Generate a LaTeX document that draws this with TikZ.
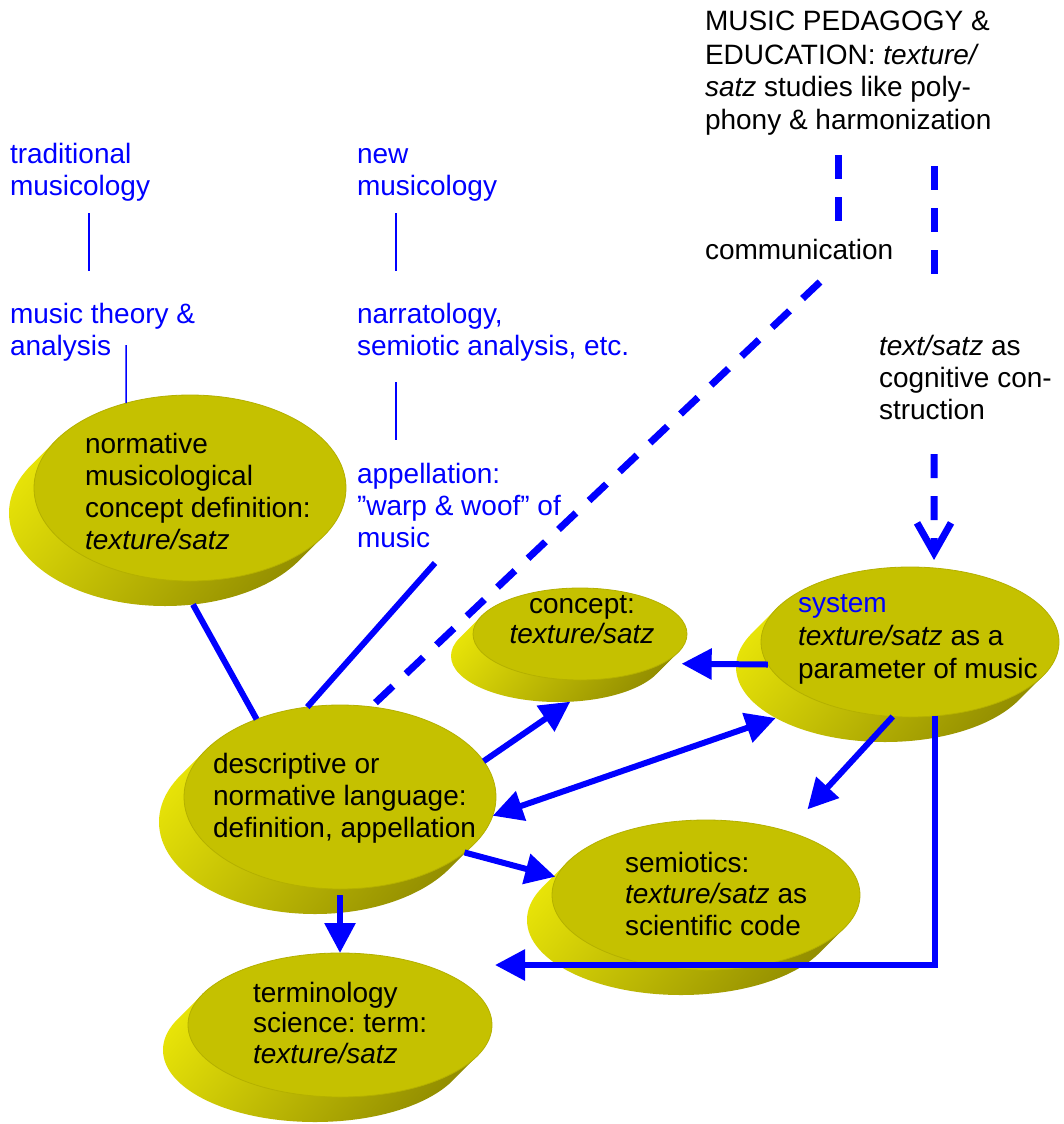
\documentclass[tikz,border=0pt]{standalone}
\usepackage{fontspec}
\setmainfont{Liberation Sans}
\usetikzlibrary{arrows.meta,shapes.geometric,calc}
\frenchspacing

\definecolor{linkblue}{RGB}{0,0,255}
\definecolor{discTop}{RGB}{197,193,0}
\definecolor{discEdge}{RGB}{180,176,0}
\definecolor{sideLight}{RGB}{232,228,8}
\definecolor{sideDark}{RGB}{145,140,0}

% multi-line text whose reference point is the first baseline
\newcommand\lines[1]{\begin{tabular}[t]{@{}l@{}}#1\end{tabular}}
\newcommand\clines[1]{\begin{tabular}[t]{@{}c@{}}#1\end{tabular}}

% extruded disc: shaded side (union of shifted ellipses) + flat top node
% #1 name, #2 centre, #3 x radius, #4 y radius, #5 depth
\newcommand\drawdisc[5]{%
  \shade[discside] \foreach \k in {1,...,#5} {([shift={(-\k,\k)}]#2) ellipse [x radius=#3, y radius=#4]};
  \node[disctop, minimum width=2*#3, minimum height=2*#4] (#1) at (#2) {};
}

\begin{document}
\begin{tikzpicture}[x=1pt,y=-1pt,
  txt/.style={inner sep=0pt, outer sep=0pt, anchor=base west, font=\fontsize{28}{32}\selectfont},
  bluetxt/.style={txt, text=linkblue},
  disctop/.style={ellipse, inner sep=0pt, outer sep=0pt, fill=discTop, draw=discEdge, line width=0.8pt},
  discside/.style={top color=sideLight, bottom color=sideDark, shading angle=50},
  thinlink/.style={draw=linkblue, line width=1.5pt},
  conn/.style={draw=linkblue, line width=6pt},
  arr/.style={conn, -{Triangle[length=30pt,width=30pt]}},
  darr/.style={conn, {Triangle[length=30pt,width=30pt]}-{Triangle[length=30pt,width=30pt]}},
  dsh/.style={draw=linkblue, line width=7pt, dash pattern=on 24pt off 18pt},
]
\fill[white] (0,0) rectangle (1064,1124);
\useasboundingbox (0,0) rectangle (1064,1124);

% discs
\drawdisc{norm}{190,488}{156}{93}{25}
\drawdisc{desc}{340,797}{156}{92}{25}
\drawdisc{term}{340,1025}{152}{72}{25}
\drawdisc{conc}{580,634}{107}{46}{22}
\drawdisc{sys}{910,642}{149}{75}{25}
\drawdisc{semi}{706,895}{154}{75}{25}

% free labels
\node[bluetxt] (trad) at (10,163) {\lines{traditional\\musicology}};
\node[bluetxt] (theory) at (10,323) {\lines{music theory \&\\analysis}};
\node[bluetxt] (newm) at (357,163) {\lines{new\\musicology}};
\node[bluetxt] (narr) at (357,323) {\lines{narratology,\\semiotic analysis, etc.}};
\node[bluetxt] (appel) at (357,483) {\lines{appellation:\\”warp \& woof” of\\music}};
\node[txt, font=\fontsize{28}{33}\selectfont] (ped) at (705,31)
  {\lines{MUSIC PEDAGOGY \&\\EDUCATION: \textit{texture/}\\\textit{satz} studies like poly-\\phony \& harmonization}};
\node[txt] (comm) at (705,259) {communication};
\node[txt] (cog) at (879,355) {\lines{\textit{text/satz} as\\cognitive con-\\struction}};

% disc texts
\node[txt] (normT) at (85,453) {\lines{normative\\musicological\\concept definition:\\\textit{texture/satz}}};
\node[txt] (descT) at (213,773) {\lines{descriptive or\\normative language:\\definition, appellation}};
\node[txt, font=\fontsize{28}{30.5}\selectfont] (termT) at (253,1002) {\lines{terminology\\science: term:\\\textit{texture/satz}}};
\node[txt, font=\fontsize{28}{31.5}\selectfont] (semiT) at (625,872) {\lines{semiotics:\\\textit{texture/satz} as\\scientific code}};
\node[txt, anchor=base, font=\fontsize{28}{30}\selectfont] (concT) at (582,613) {\clines{concept:\\\textit{texture/satz}}};
\node[txt, font=\fontsize{28}{33}\selectfont] (sysT) at (798,612) {\lines{\textcolor{linkblue}{system}\\\textit{texture/satz} as a\\parameter of music}};

% thin links between labels
\draw[thinlink] ([shift={(79,50)}]trad.base west) -- ([shift={(79,-52)}]theory.base west);
\draw[thinlink] ([shift={(116,22)}]theory.base west) -- (norm.127);
\draw[thinlink] ([shift={(39,50)}]newm.base west) -- ([shift={(39,-52)}]narr.base west);
\draw[thinlink] ([shift={(39,59)}]narr.base west) -- ([shift={(39,-43)}]appel.base west);

% plain connectors
\draw[conn] ([shift={(-25,25)}]norm.-73) -- (desc.137);
\draw[conn] ([shift={(78,80)}]appel.base west) -- (desc.110);

% dashed communication links
\draw[dsh] ([shift={(115,23)}]comm.base west) -- (desc.71);
\draw[dsh] ([shift={(133,124)}]ped.base west) -- ([shift={(133,-37)}]comm.base west);
\draw[dsh] ([shift={(229,135)}]ped.base west) -- ([shift={(55,-79)}]cog.base west);
\draw[dsh, -{Straight Barb[length=30pt,width=34pt]}] ([shift={(55,99)}]cog.base west) -- ([shift={(0,-8)}]sys.72);

% arrows
\draw[arr] (sys.189) -- ([shift={(20,0)}]conc.-20);
\draw[arr] (desc.14) -- ([shift={(-22,22)}]conc.-75);
\draw[darr] (desc.-7) -- ([shift={(-25,25)}]sys.205);
\draw[arr] (desc.-24) -- ([shift={(-25,25)}]semi.161);
\draw[arr] (sys.-103) -- ([shift={(20,-22)}]semi.38);
\draw[arr] ([shift={(0,6)}]desc.-90) -- (term.90);
\draw[arr] (sys.-71) |- ([shift={(3,-60)}]term.east);
\end{tikzpicture}
\end{document}
